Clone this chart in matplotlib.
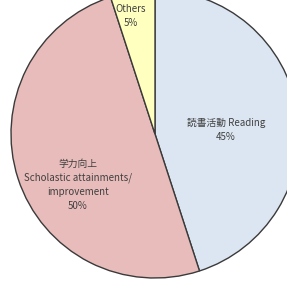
import matplotlib
matplotlib.use("Agg")
import matplotlib.pyplot as plt

plt.rcParams['font.family'] = ['Noto Sans CJK JP', 'DejaVu Sans']

# slice data, clockwise from 12 o'clock
categories = ["読書活動 Reading", "学力向上\nScholastic attainments/\nimprovement", "Others"]
shares = [45, 50, 5]
colors = ["#dce6f2", "#e8bcbb", "#ffffc0"]

W, H = 287, 282
fig = plt.figure(figsize=(W / 100, H / 100), dpi=100)
ax = fig.add_axes([0, 0, 1, 1])

cx, cy, r = 155, H - 134, 144
ax.pie(shares, colors=colors, startangle=90, counterclock=False,
       center=(cx, cy), radius=r, frame=True,
       wedgeprops=dict(edgecolor="#3a3a3a", linewidth=1.0))
ax.set_xlim(0, W)
ax.set_ylim(0, H)
ax.set_aspect("equal")
ax.axis("off")

tc = "#404040"
fs = 7
ax.text(226, H - 130, f"{categories[0]}\n{shares[0]}%", ha="center", va="center",
        fontsize=fs, color=tc, linespacing=1.5)
ax.text(78, H - 185, f"{categories[1]}\n{shares[1]}%", ha="center", va="center",
        fontsize=fs, color=tc, linespacing=1.5)
ax.text(131, H - 16, f"{categories[2]}\n{shares[2]}%", ha="center", va="center",
        fontsize=fs, color=tc, linespacing=1.5)

fig.savefig("out.png", dpi=100)
